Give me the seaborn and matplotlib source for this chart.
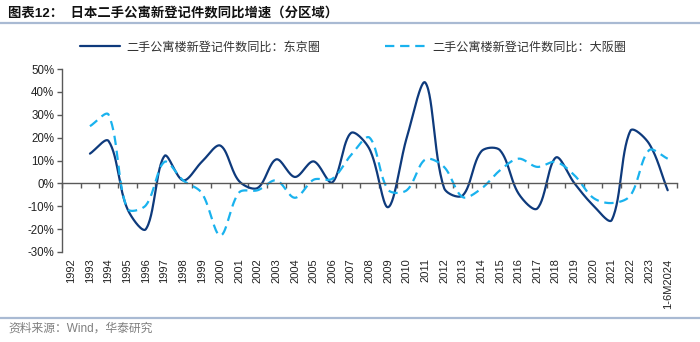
import numpy as np
import pandas as pd
import matplotlib
matplotlib.use("Agg")
import matplotlib.pyplot as plt
import matplotlib.transforms as mtransforms
from matplotlib.lines import Line2D
import seaborn as sns

# ---- data ----
years = ["1992", "1993", "1994", "1995", "1996", "1997", "1998", "1999", "2000",
         "2001", "2002", "2003", "2004", "2005", "2006", "2007", "2008", "2009",
         "2010", "2011", "2012", "2013", "2014", "2015", "2016", "2017", "2018",
         "2019", "2020", "2021", "2022", "2023", "1-6M2024"]

tokyo = [np.nan, 13.0, 18.5, -11.0, -20.0, 12.0, 1.3, 9.4, 16.5,
         1.0, -2.0, 10.5, 2.8, 9.6, 0.4, 22.0, 15.0, -10.4,
         20.0, 44.0, -2.0, -5.3, 14.0, 14.5, -4.5, -11.0, 11.3,
         0.0, -9.6, -16.0, 23.0, 17.4, -3.0]

osaka = [np.nan, 25.0, 30.0, -11.0, -9.6, 9.4, 1.3, -4.2, -22.8,
         -4.0, -3.0, 1.3, -6.3, 1.6, 2.0, 12.3, 20.0, -2.8,
         -3.0, 10.5, 7.2, -6.0, -2.3, 5.7, 10.8, 7.2, 9.4,
         3.5, -6.3, -8.6, -5.3, 14.5, 10.8]

yticks = [-30, -20, -10, 0, 10, 20, 30, 40, 50]

title = "图表12：  日本二手公寓新登记件数同比增速（分区域）"
name_tokyo = "二手公寓楼新登记件数同比：东京圈"
name_osaka = "二手公寓楼新登记件数同比：大阪圈"
source = "资料来源：Wind，华泰研究"

NAVY = "#0E3A7C"
CYAN = "#19B2EE"
GRID = "#595959"

# drawing scale (pixels per x unit / per percentage point) used for smoothing
SX, SY = 18.64, 2.28


def smooth_curve(xs, ys, n=30, tension=0.33):
    """Bezier smoothing through each point, tangents weighted by segment length."""
    pts = np.array([(x, y) for x, y in zip(xs, ys) if not np.isnan(y)], float)
    P = pts * [SX, SY]
    m = len(P)
    c_out = P.copy()
    c_in = P.copy()
    for i in range(m):
        a = P[max(i - 1, 0)]
        b = P[min(i + 1, m - 1)]
        d = b - a
        l1 = np.linalg.norm(P[i] - a)
        l2 = np.linalg.norm(b - P[i])
        if l1 + l2 == 0:
            continue
        c_out[i] = P[i] + d * tension * l2 / (l1 + l2)
        c_in[i] = P[i] - d * tension * l1 / (l1 + l2)
    t = np.linspace(0, 1, n, endpoint=False)[:, None]
    segs = []
    for i in range(m - 1):
        p1, p2, b1, b2 = P[i], P[i + 1], c_out[i], c_in[i + 1]
        segs.append((1 - t) ** 3 * p1 + 3 * (1 - t) ** 2 * t * b1
                    + 3 * (1 - t) * t ** 2 * b2 + t ** 3 * p2)
    segs.append(P[-1][None, :])
    out = np.vstack(segs) / [SX, SY]
    return out[:, 0], out[:, 1]


sns.set_theme(style="white")
plt.rcParams["font.family"] = ["Liberation Sans", "Noto Sans CJK SC", "DejaVu Sans"]
plt.rcParams["axes.unicode_minus"] = False

fig = plt.figure(figsize=(7.0, 3.42), dpi=100)
ax = fig.add_axes([62 / 700, 1 - 252 / 342, 615 / 700, 183 / 342])

xpos = np.arange(len(years))
tx, ty = smooth_curve(xpos, tokyo)
ox, oy = smooth_curve(xpos, osaka)

sns.lineplot(x=tx, y=ty, ax=ax, color=NAVY, lw=1.6, sort=False, estimator=None)
sns.lineplot(x=ox, y=oy, ax=ax, color=CYAN, lw=1.6, sort=False, estimator=None)
ax.lines[-1].set_dashes((4.2, 2.6))

ax.set_xlim(-0.5, len(years) - 0.5)
ax.set_ylim(-30, 50)

# spines
for s in ["top", "right"]:
    ax.spines[s].set_visible(False)
ax.spines["left"].set_color(GRID)
ax.spines["left"].set_linewidth(1.0)
ax.spines["bottom"].set_position(("data", 0))
ax.spines["bottom"].set_color(GRID)
ax.spines["bottom"].set_linewidth(1.0)

# y axis
ax.set_yticks(yticks)
ax.set_yticklabels([f"{v}%" for v in yticks], fontsize=8.3, color="#222222")
ax.tick_params(axis="y", direction="out", length=3.5, width=1.0, color=GRID,
               left=True, pad=2)

# x axis: boundary ticks on the zero line, labels at the bottom
ax.set_xticks(np.arange(-0.5, len(years) - 0.4, 1.0))
ax.set_xticklabels([])
ax.tick_params(axis="x", direction="out", length=3.5, width=1.0, color=GRID,
               bottom=True)
trans = mtransforms.blended_transform_factory(ax.transData, ax.transAxes)
for i, lab in enumerate(years):
    ax.text(i, -0.035, lab, transform=trans, rotation=90, ha="center", va="top",
            fontsize=8, color="#222222")
ax.grid(False)

# legend
handles = [Line2D([], [], color=NAVY, lw=1.6),
           Line2D([], [], color=CYAN, lw=1.6, dashes=(4.2, 2.6))]
fig.legend(handles, [name_tokyo, name_osaka], ncol=2, loc="center",
           bbox_to_anchor=(0.504, 1 - 47 / 342), frameon=False,
           prop={"family": ["Noto Sans CJK SC"], "size": 8.7},
           handlelength=3.3, handletextpad=0.6, columnspacing=5.3,
           labelcolor="#333333")

# header and footer
fig.text(8 / 700, 1 - 13 / 342, title, fontsize=9.6, fontweight="bold",
         family=["Liberation Sans", "Noto Sans CJK SC"], va="center", ha="left",
         color="#111111")
fig.add_artist(Line2D([0, 1], [1 - 23 / 342, 1 - 23 / 342], color="#A9BAD3",
                      lw=1.6, transform=fig.transFigure))
fig.add_artist(Line2D([0, 1], [1 - 318 / 342, 1 - 318 / 342], color="#A9BAD3",
                      lw=1.6, transform=fig.transFigure))
fig.text(8 / 700, 1 - 329 / 342, source, fontsize=8.5, color="#7F7F7F",
         family=["Liberation Sans", "Noto Sans CJK SC"], va="center", ha="left")

fig.savefig("out.png", dpi=100)
